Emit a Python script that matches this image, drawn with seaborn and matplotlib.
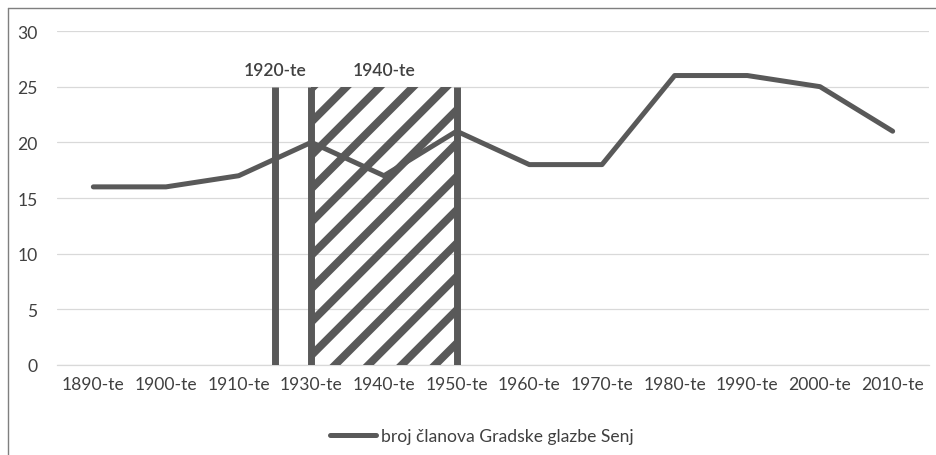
import matplotlib
matplotlib.use("Agg")
import matplotlib.pyplot as plt
import seaborn as sns
import pandas as pd
from matplotlib.patches import Rectangle
from matplotlib.lines import Line2D

# data
tick_labels = ["1890-te", "1900-te", "1910-te", "1930-te", "1940-te", "1950-te",
               "1960-te", "1970-te", "1980-te", "1990-te", "2000-te", "2010-te"]
members = [16, 16, 17, 20, 17, 21, 18, 18, 26, 26, 25, 21]
series_name = "broj članova Gradske glazbe Senj"

# period markers: single bar for 1920s, hatched block for 1940s
bar_label = "1920-te"
bar_pos = 2.5
block_label = "1940-te"
block_start, block_end = 3, 5
marker_top = 25

GREY = "#595959"
TEXT = "#404040"

sns.set_style("white")
plt.rcParams["font.family"] = ["Lato", "DejaVu Sans"]
plt.rcParams["hatch.linewidth"] = 2.8

df = pd.DataFrame({"pos": range(len(members)), "members": members})

fig = plt.figure(figsize=(4.68, 2.28), dpi=200)
ax = fig.add_axes([57 / 936, 1 - 366 / 456, 872 / 936, 334 / 456])

ax.yaxis.grid(True, color="#d9d9d9", linewidth=0.45)
ax.set_axisbelow(True)

sns.lineplot(data=df, x="pos", y="members", color=GREY, linewidth=1.8,
             ax=ax, label=series_name, zorder=3)

# 1920s marker
ax.vlines(bar_pos, 0, marker_top, color=GREY, linewidth=2.5, zorder=4)
ax.text(bar_pos, 26.5, bar_label, ha="center", va="center",
        fontsize=6.3, color=TEXT, fontweight="semibold")

# 1940s hatched block
ax.add_patch(Rectangle((block_start, 0), block_end - block_start, marker_top,
                       facecolor="none", edgecolor=GREY, linewidth=0,
                       hatch="//", zorder=4))
ax.vlines([block_start, block_end], 0, marker_top, color=GREY,
          linewidth=2.5, zorder=4)
ax.text((block_start + block_end) / 2, 26.5, block_label, ha="center",
        va="center", fontsize=6.3, color=TEXT, fontweight="semibold")

ax.set_xlim(-0.5, len(members) - 0.5)
ax.set_ylim(0, 30)
ax.set_yticks(range(0, 31, 5))
ax.set_xticks(range(len(members)))
ax.set_xticklabels(tick_labels)
ax.tick_params(axis="both", labelsize=6.3, colors=TEXT, length=0)
ax.tick_params(axis="y", pad=7)
ax.tick_params(axis="x", pad=4)
ax.set_xlabel("")
ax.set_ylabel("")
for s in ax.spines.values():
    s.set_visible(False)
ax.spines["bottom"].set_visible(True)
ax.spines["bottom"].set_color("#d9d9d9")
ax.spines["bottom"].set_linewidth(0.45)

leg = ax.legend(loc="center", bbox_to_anchor=(482 / 936, (456 - 437) / 456),
                bbox_transform=fig.transFigure, frameon=False,
                fontsize=6.3, handlelength=2.6, handletextpad=0.3)
for t in leg.get_texts():
    t.set_color(TEXT)

# chart border (only top and left edge visible in the crop)
fig.add_artist(Line2D([8 / 936, 8 / 936], [0, 1 - 9 / 456],
                      transform=fig.transFigure, color="#7f7f7f", linewidth=0.5))
fig.add_artist(Line2D([8 / 936, 1], [1 - 9 / 456, 1 - 9 / 456],
                      transform=fig.transFigure, color="#7f7f7f", linewidth=0.5))

fig.savefig("out.png", dpi=200)
